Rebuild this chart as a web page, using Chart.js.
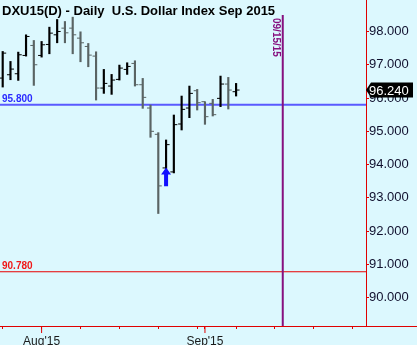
<!DOCTYPE html>
<html>
<head>
<meta charset="utf-8">
<script src="https://cdn.jsdelivr.net/npm/chart.js@4.4.0/dist/chart.umd.min.js"></script>
<style>
  html, body { margin: 0; padding: 0; background: #dcf8fe; }
  #wrap { width: 417px; height: 345px; }
</style>
</head>
<body>
<div id="wrap"><canvas id="dxChart"></canvas></div>
<script>
// ==============================
// DATA  (DXU15 daily, index 0 = 07/27/2015)
// ==============================
const dates  = ['07/27','07/28','07/29','07/30','07/31','08/03','08/04','08/05','08/06','08/07',
                '08/10','08/11','08/12','08/13','08/14','08/17','08/18','08/19','08/20','08/21',
                '08/24','08/25','08/26','08/27','08/28','08/31','09/01','09/02','09/03','09/04','09/07'];
const opens  = [96.60, 96.70, 96.73, 97.28, 97.58, 97.28, 97.61, 97.90, 98.10, 98.10,
                97.80, 97.55, 97.26, 96.30, 96.36, 96.56, 96.86, 97.04, 96.40, 95.70,
                94.91, 93.90, 93.78, 95.22, 95.70, 96.22, 95.89, 95.84, 95.99, 96.42, 96.19];
const highs  = [97.40, 97.10, 97.38, 97.90, 97.73, 97.70, 98.13, 98.36, 98.30, 98.43,
                97.99, 97.64, 97.39, 96.86, 96.71, 96.99, 97.06, 97.12, 96.59, 95.79,
                94.96, 94.74, 95.49, 96.06, 96.36, 96.26, 95.89, 95.96, 96.66, 96.62, 96.44];
const lows   = [96.33, 96.55, 96.53, 97.26, 96.38, 97.23, 97.33, 97.66, 97.66, 97.33,
                97.09, 96.94, 95.94, 96.14, 96.11, 96.54, 96.71, 96.36, 95.69, 94.82,
                92.53, 93.82, 93.75, 95.04, 95.41, 95.64, 95.21, 95.46, 95.74, 95.67, 96.06];
const closes = [97.35, 96.87, 97.30, 97.85, 97.00, 97.60, 97.95, 98.00, 97.96, 97.90,
                97.66, 97.29, 96.30, 96.44, 96.54, 96.90, 96.95, 96.40, 96.02, 95.00,
                93.36, 94.60, 95.20, 95.66, 96.14, 95.86, 95.44, 95.50, 96.42, 96.24, 96.24];

const yTicks      = [90, 91, 92, 93, 94, 95, 96, 97, 98];
const weekTicks   = [0, 5, 10, 15, 20, 25, 30, 35, 40, 45];
const monthTicks  = [5, 26];
const monthLabels = ["Aug'15", "Sep'15"];

const levels      = [95.80, 90.78];
const eventIndex  = 36;            // 09/15/15
const eventLabel  = '09/15/15';
const arrowIndex  = 21;
const arrowTip    = 93.91;
const arrowBase   = 93.35;

const titleText = 'DXU15(D) - Daily  U.S. Dollar Index Sep 2015';

// ==============================
// STYLES
// ==============================
const BG = '#dcf8fe';
const AXIS_RED = '#e00000';
const UP = '#000000';
const DOWN = '#5a6464';
const levelColors = ['#5a5aff', '#e80000'];
const levelTextColors = ['#2a2aff', '#f01818'];
const FONT = "'Liberation Sans', Arial, sans-serif";

Chart.defaults.font.family = FONT;

const barColor = i => (closes[i] < opens[i] ? DOWN : UP);

// draws background, levels, OHLC ticks and the annotations
const overlay = {
    id: 'overlay',
    beforeDraw(chart) {
        const { ctx, width, height } = chart;
        ctx.save();
        ctx.fillStyle = BG;
        ctx.fillRect(0, 0, width, height);
        ctx.restore();
    },
    beforeDatasetsDraw(chart) {
        const { ctx, chartArea: a, scales: { y } } = chart;
        ctx.save();
        levels.forEach((v, i) => {
            const py = y.getPixelForValue(v);
            ctx.strokeStyle = levelColors[i];
            ctx.lineWidth = i === 0 ? 2 : 1.2;
            ctx.beginPath();
            ctx.moveTo(a.left, py);
            ctx.lineTo(a.right, py);
            ctx.stroke();
            ctx.fillStyle = levelTextColors[i];
            ctx.font = 'bold 10px ' + FONT;
            ctx.textBaseline = 'alphabetic';
            ctx.textAlign = 'left';
            ctx.fillText(v.toFixed(3), a.left + 2, py - 2.5);
        });
        ctx.restore();
    },
    afterDatasetsDraw(chart) {
        const { ctx, scales: { x, y } } = chart;
        ctx.save();
        ctx.lineWidth = 1;
        dates.forEach((d, i) => {
            const px = x.getPixelForValue(i);
            const po = y.getPixelForValue(opens[i]);
            const pc = y.getPixelForValue(closes[i]);
            ctx.strokeStyle = barColor(i);
            ctx.beginPath();
            ctx.moveTo(px - 3.5, po); ctx.lineTo(px, po);
            ctx.moveTo(px, pc); ctx.lineTo(px + 3.5, pc);
            ctx.stroke();
        });

        // blue arrow under the low
        const ax = x.getPixelForValue(arrowIndex);
        const tip = y.getPixelForValue(arrowTip);
        const base = y.getPixelForValue(arrowBase);
        ctx.fillStyle = '#1010ff';
        ctx.beginPath();
        ctx.moveTo(ax, tip);
        ctx.lineTo(ax + 5, tip + 7);
        ctx.lineTo(ax + 2, tip + 7);
        ctx.lineTo(ax + 2, base);
        ctx.lineTo(ax - 2, base);
        ctx.lineTo(ax - 2, tip + 7);
        ctx.lineTo(ax - 5, tip + 7);
        ctx.closePath();
        ctx.fill();
        ctx.restore();
    },
    afterDraw(chart) {
        const { ctx, chartArea: a, width, scales: { x, y } } = chart;
        ctx.save();

        // title
        ctx.fillStyle = '#000';
        ctx.font = 'bold 13px ' + FONT;
        ctx.textAlign = 'left';
        ctx.textBaseline = 'alphabetic';
        ctx.fillText(titleText, a.left + 2, a.top + 14.5);

        // bottom axis runs full width
        ctx.strokeStyle = AXIS_RED;
        ctx.lineWidth = 1;
        ctx.beginPath();
        ctx.moveTo(0, a.bottom + 0.5);
        ctx.lineTo(width, a.bottom + 0.5);
        ctx.stroke();

        // month ticks are longer
        monthTicks.forEach(m => {
            const px = x.getPixelForValue(m);
            ctx.beginPath();
            ctx.moveTo(px, a.bottom);
            ctx.lineTo(px, a.bottom + 7);
            ctx.stroke();
        });

        // event line
        const ex = x.getPixelForValue(eventIndex);
        ctx.strokeStyle = '#86107f';
        ctx.lineWidth = 2;
        ctx.beginPath();
        ctx.moveTo(ex, a.top + 15);
        ctx.lineTo(ex, a.bottom);
        ctx.stroke();
        ctx.translate(ex - 10, a.top + 18);
        ctx.rotate(Math.PI / 2);
        ctx.fillStyle = '#86107f';
        ctx.font = 'bold 10px ' + FONT;
        ctx.fillText(eventLabel, 0, 0);
        ctx.setTransform(1, 0, 0, 1, 0, 0);

        // last price tag
        const last = closes[closes.length - 1];
        const ly = y.getPixelForValue(last);
        const lx = a.right;
        ctx.fillStyle = '#000';
        ctx.beginPath();
        ctx.moveTo(lx, ly);
        ctx.lineTo(lx + 5, ly - 7.5);
        ctx.lineTo(lx + 47, ly - 7.5);
        ctx.lineTo(lx + 47, ly + 7.5);
        ctx.lineTo(lx + 5, ly + 7.5);
        ctx.closePath();
        ctx.fill();
        ctx.fillStyle = '#fff';
        ctx.font = '13px ' + FONT;
        ctx.fillText(last.toFixed(3), lx + 3, ly + 5);
        ctx.restore();
    }
};

const ctx = document.getElementById('dxChart').getContext('2d');
new Chart(ctx, {
    type: 'bar',
    data: {
        datasets: [{
            data: dates.map((d, i) => ({ x: i, y: [lows[i], highs[i]] })),
            backgroundColor: c => barColor(c.dataIndex),
            borderWidth: 0,
            barThickness: 1.5
        }]
    },
    options: {
        responsive: true,
        maintainAspectRatio: false,
        animation: false,
        events: [],
        layout: { padding: 0 },
        plugins: {
            legend: { display: false },
            title: { display: false },
            tooltip: { enabled: false }
        },
        scales: {
            x: {
                type: 'linear',
                min: -0.347,
                max: 46.70,
                offset: false,
                afterBuildTicks: s => { s.ticks = weekTicks.concat([26]).sort((p, q) => p - q).map(v => ({ value: v })); },
                afterFit: s => { s.height = 19; s.paddingLeft = 0; s.paddingRight = 0; },
                grid: { drawOnChartArea: false, offset: false, tickLength: 3, tickColor: AXIS_RED, tickWidth: 1 },
                border: { color: AXIS_RED },
                ticks: {
                    autoSkip: false,
                    maxRotation: 0,
                    padding: 5,
                    color: '#1a1a1a',
                    font: { size: 12 },
                    callback: v => { const k = monthTicks.indexOf(v); return k >= 0 ? monthLabels[k] : ''; }
                }
            },
            y: {
                type: 'linear',
                position: 'right',
                min: 89.15,
                max: 98.946,
                afterBuildTicks: s => { s.ticks = yTicks.map(v => ({ value: v })); },
                afterFit: s => { s.width = 51; s.paddingTop = 0; s.paddingBottom = 0; },
                grid: { drawOnChartArea: false, tickLength: 3, tickColor: AXIS_RED },
                border: { color: AXIS_RED, width: 1 },
                ticks: {
                    padding: 0,
                    color: '#10102e',
                    font: { size: 13 },
                    callback: v => v.toFixed(3)
                }
            }
        }
    },
    plugins: [overlay]
});
</script>
</body>
</html>
